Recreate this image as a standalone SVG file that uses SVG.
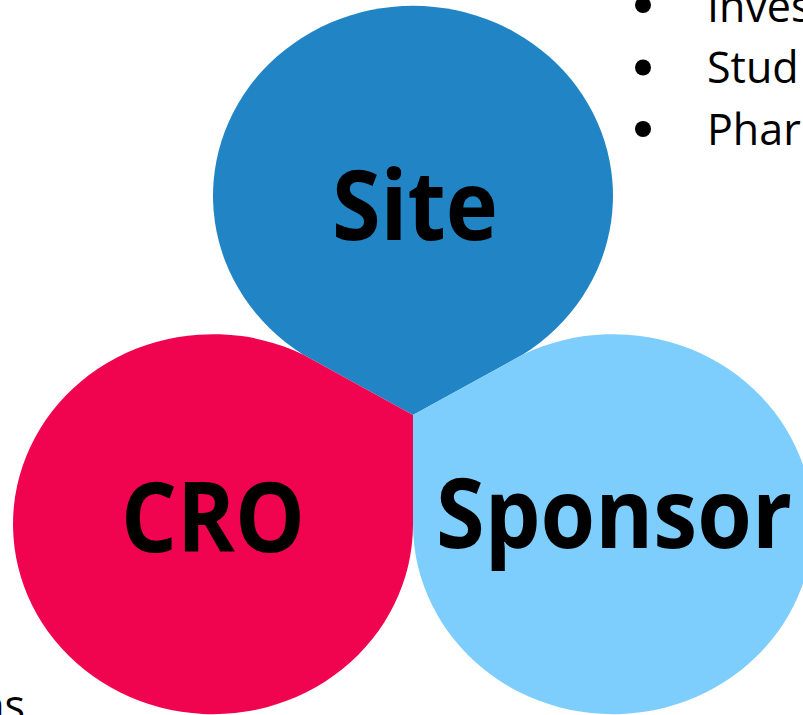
<svg xmlns="http://www.w3.org/2000/svg" width="803" height="715" viewBox="0 0 803 715">
<style>
.lbl{font-family:"Open Sans","Liberation Sans",sans-serif;font-weight:bold;font-size:97px;fill:#000;text-anchor:middle}
.bl{font-family:"Open Sans","Liberation Sans",sans-serif;font-size:43px;fill:#000}
.dot{fill:#000}
</style>
<rect width="803" height="715" fill="#fff"/>
<g id="connectors"/>
<g id="node-site">
<path d="M413,415 L303,354.5 A200,190 0 1 1 523,354.5 Z" fill="#2185C5"/>
<text class="lbl" x="415" y="240" textLength="166" lengthAdjust="spacingAndGlyphs">Site</text>
</g>
<g id="node-cro">
<path d="M413,415 L413,525 A200,190 0 1 1 303,354.5 Z" fill="#F00450"/>
<text class="lbl" x="213" y="552" textLength="184" lengthAdjust="spacingAndGlyphs">CRO</text>
</g>
<g id="node-sponsor">
<path d="M413,415 L523,354.5 A200,190 0 1 1 413,525 Z" fill="#7ECEFD"/>
<text class="lbl" x="614" y="548" textLength="356" lengthAdjust="spacingAndGlyphs">Sponsor</text>
</g>
<g id="bullets">
<circle class="dot" cx="643" cy="5" r="8"/>
<circle class="dot" cx="643" cy="67.5" r="8"/>
<circle class="dot" cx="643" cy="129" r="8"/>
<text class="bl" x="707" y="22">Inves</text>
<text class="bl" x="707" y="83">Stud</text>
<text class="bl" x="707" y="145">Phar</text>
<text class="bl" x="25" y="721" text-anchor="end">ns</text>
</g>
</svg>
